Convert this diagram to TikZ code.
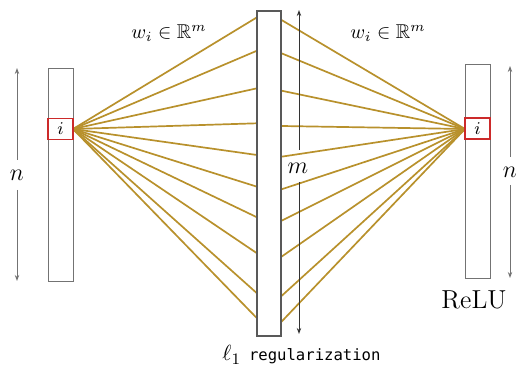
\documentclass[tikz,border=0pt]{standalone}
\usepackage{amssymb}
\usepackage{fontspec}
\newfontfamily\codefont{DejaVu Sans Mono}
\usetikzlibrary{arrows.meta}
\definecolor{fan}{HTML}{B8912C}
\definecolor{redbox}{HTML}{CC2A2A}
\begin{document}
\begin{tikzpicture}[x=0.5pt,y=-0.5pt,
  sidebar/.style={draw=black!55,line width=0.45pt,inner sep=0pt,minimum width=12.5pt},
  midbar/.style={draw=black!65,line width=0.9pt,fill=white,inner sep=0pt,minimum width=12pt,minimum height=162.5pt},
  sel/.style={draw=redbox,line width=0.8pt,inner sep=0pt,minimum width=12.5pt,minimum height=10.5pt},
  fanline/.style={draw=fan,line width=0.85pt},
  dimarrow/.style={draw=black!55,line width=0.5pt,-{Stealth[length=3pt,width=2.2pt]}},
  marrow/.style={draw=black!80,line width=0.5pt,-{Stealth[length=3pt,width=2.2pt]}},
  lab/.style={inner sep=0pt}]
\useasboundingbox (0,0) rectangle (518,368);
% fan lines (drawn first)
\coordinate (srcL) at (73,129);
\coordinate (srcR) at (465,129);
\foreach \k/\y in {1/17.3,2/50.7,3/88.3,4/123.3,5/155,6/186.7,7/217.3,8/253.3,9/293.3,10/318.3}
  {\coordinate (ml\k) at (257,\y); \draw[fanline] (srcL) -- (ml\k);}
\foreach \k/\y in {1/20,2/53.3,3/90.7,4/126,5/156.7,6/189.3,7/220.7,8/256.7,9/296,10/321.7}
  {\coordinate (mr\k) at (281.5,\y); \draw[fanline] (srcR) -- (mr\k);}
% bars
\node[sidebar,minimum height=106.5pt] (barL) at (60.5,174.5) {};
\node[sidebar,minimum height=107pt] (barR) at (477.5,171) {};
\node[midbar] (barM) at (269.25,173.5) {};
\node[sel,fill=white] (selL) at (60.5,129) {\small$i$};
\node[sel,fill=white] (selR) at (477.5,128.5) {\small$i$};
% dimension arrows
\node[lab,font=\fontsize{12.5}{15}\selectfont] (nL) at (17,175) {$n$};
\coordinate (nLt) at (17,68);
\coordinate (nLb) at (17,281);
\coordinate (nLa) at (17,160);
\coordinate (nLc) at (17,190);
\draw[dimarrow] (nLa) -- (nLt);
\draw[dimarrow] (nLc) -- (nLb);
\node[lab,font=\fontsize{12.5}{15}\selectfont] (nR) at (510,172) {$n$};
\coordinate (nRt) at (510,66);
\coordinate (nRb) at (510,278);
\coordinate (nRa) at (510,157);
\coordinate (nRc) at (510,185);
\draw[dimarrow] (nRa) -- (nRt);
\draw[dimarrow] (nRc) -- (nRb);
\node[lab,font=\fontsize{12.5}{15}\selectfont] (mlab) at (298,168) {$m$};
\coordinate (mt) at (299,10);
\coordinate (mb) at (299,334);
\coordinate (ma) at (299,150);
\coordinate (mc) at (299,182);
\draw[marrow] (ma) -- (mt);
\draw[marrow] (mc) -- (mb);
% labels
\node[lab] (wL) at (169,33) {$w_i \in \mathbb{R}^m$};
\node[lab] (wR) at (388,33) {$w_i \in \mathbb{R}^m$};
\node[lab,font=\fontsize{13}{15}\selectfont] (relu) at (474,300) {ReLU};
\node[lab,anchor=west] (reg) at (222,355) {\fontsize{11}{13}\selectfont$\ell_1$\hspace{4pt}{\codefont\fontsize{7.8}{10}\selectfont regularization}};
\end{tikzpicture}
\end{document}
